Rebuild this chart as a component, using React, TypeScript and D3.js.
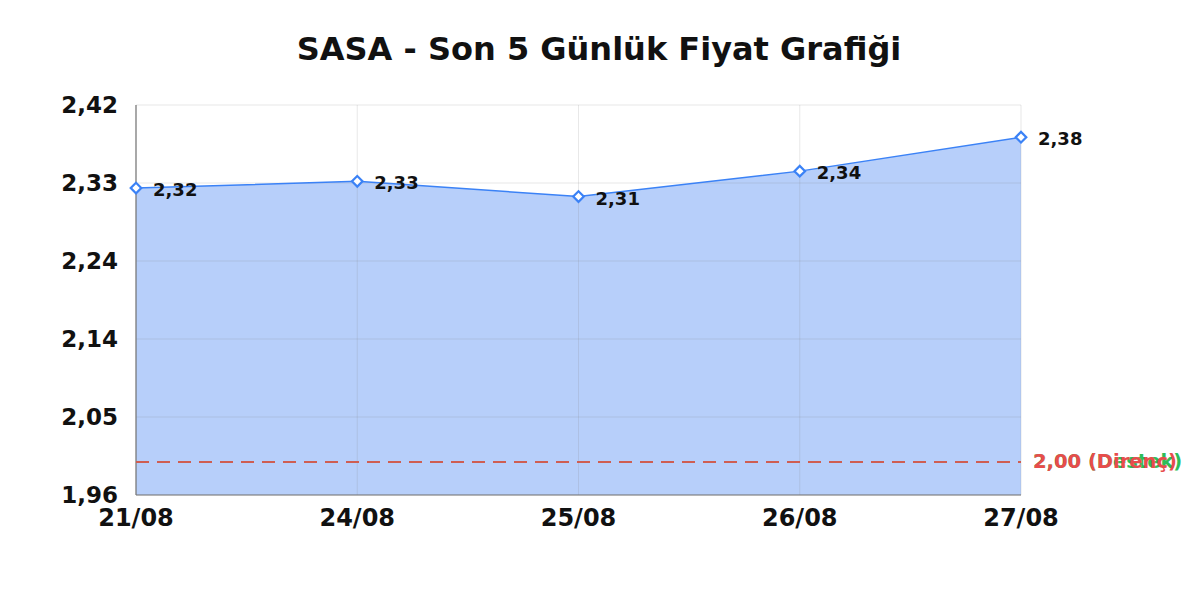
import * as d3 from "d3";

const dates = ["21/08", "24/08", "25/08", "26/08", "27/08"];
const prices = [2.322, 2.33, 2.312, 2.342, 2.382];
const priceLabels = ["2,32", "2,33", "2,31", "2,34", "2,38"];
const yTicks = [1.96, 2.052, 2.144, 2.236, 2.328, 2.42];
const yTickLabels = ["1,96", "2,05", "2,14", "2,24", "2,33", "2,42"];
const levels = [
  { value: 2.0, label: "2,00 (Destek)", color: "#2ebd59" },
  { value: 2.0, label: "2,00 (Direnç)", color: "#e84c4c" },
];

const W = 1200;
const H = 600;
const margin = { top: 105, right: 179, bottom: 105, left: 136 };
const FONT = "'DejaVu Sans', sans-serif";

export default function App() {
  const innerW = W - margin.left - margin.right;
  const innerH = H - margin.top - margin.bottom;

  const x = d3.scalePoint<string>().domain(dates).range([0, innerW]);
  const y = d3.scaleLinear().domain([1.96, 2.42]).range([innerH, 0]);

  const pts = dates.map((d, i) => ({ d, v: prices[i], label: priceLabels[i] }));

  const area = d3
    .area<(typeof pts)[number]>()
    .x((p) => x(p.d)!)
    .y0(innerH)
    .y1((p) => y(p.v));
  const line = d3
    .line<(typeof pts)[number]>()
    .x((p) => x(p.d)!)
    .y((p) => y(p.v));

  const diamond = d3.symbol(d3.symbolSquare, 56)();

  return (
    <svg
      width={W}
      height={H}
      style={{ position: "fixed", left: 0, top: 0, background: "#fff" }}
      fontFamily={FONT}
    >
      <text
        x={W / 2 - 1}
        y={60}
        textAnchor="middle"
        fontSize={32}
        fontWeight="bold"
        fill="#111"
      >
        SASA - Son 5 Günlük Fiyat Grafiği
      </text>
      <g transform={`translate(${margin.left},${margin.top})`}>
        <path d={area(pts)!} fill="#b7cffa" />
        {/* grid */}
        {yTicks.map((t) => (
          <line
            key={"h" + t}
            x1={0}
            x2={innerW}
            y1={y(t)}
            y2={y(t)}
            stroke="#808080"
            strokeOpacity={0.18}
            strokeWidth={1}
          />
        ))}
        {dates.map((d) => (
          <line
            key={"v" + d}
            x1={x(d)}
            x2={x(d)}
            y1={0}
            y2={innerH}
            stroke="#808080"
            strokeOpacity={0.18}
            strokeWidth={1}
          />
        ))}
        {/* axes */}
        <line x1={0} x2={0} y1={0} y2={innerH} stroke="#777" strokeWidth={1.2} />
        <line x1={0} x2={innerW} y1={innerH} y2={innerH} stroke="#777" strokeWidth={1.2} />
        {yTicks.map((t, i) => (
          <text
            key={"yt" + t}
            x={-18}
            y={y(t)}
            dy="0.36em"
            textAnchor="end"
            fontSize={23}
            fontWeight="bold"
            fill="#111"
          >
            {yTickLabels[i]}
          </text>
        ))}
        {dates.map((d) => (
          <text
            key={"xt" + d}
            x={x(d)}
            y={innerH + 31}
            textAnchor="middle"
            fontSize={24}
            fontWeight="bold"
            fill="#111"
          >
            {d}
          </text>
        ))}
        {/* support / resistance */}
        {levels.map((l) => (
          <g key={l.label}>
            <line
              x1={0}
              x2={innerW}
              y1={Math.round(y(l.value)) + 1}
              y2={Math.round(y(l.value)) + 1}
              stroke={l.color}
              strokeWidth={2}
              strokeDasharray="13,8"
              strokeOpacity={0.85}
              shapeRendering="crispEdges"
            />
            <text
              x={innerW + 12}
              y={y(l.value)}
              dy="0.38em"
              fontSize={19.5}
              fontWeight="bold"
              fill={l.color}
            >
              {l.label}
            </text>
          </g>
        ))}
        <path d={line(pts)!} fill="none" stroke="#3b82f6" strokeWidth={1.5} />
        {pts.map((p) => (
          <g key={p.d}>
            <path
              d={diamond}
              transform={`translate(${x(p.d)},${y(p.v)}) rotate(45)`}
              fill="#fff"
              stroke="#3b82f6"
              strokeWidth={2.2}
            />
            <text
              x={x(p.d)! + 17}
              y={y(p.v)}
              dy="0.45em"
              fontSize={18}
              fontWeight="bold"
              fill="#111"
            >
              {p.label}
            </text>
          </g>
        ))}
      </g>
    </svg>
  );
}
